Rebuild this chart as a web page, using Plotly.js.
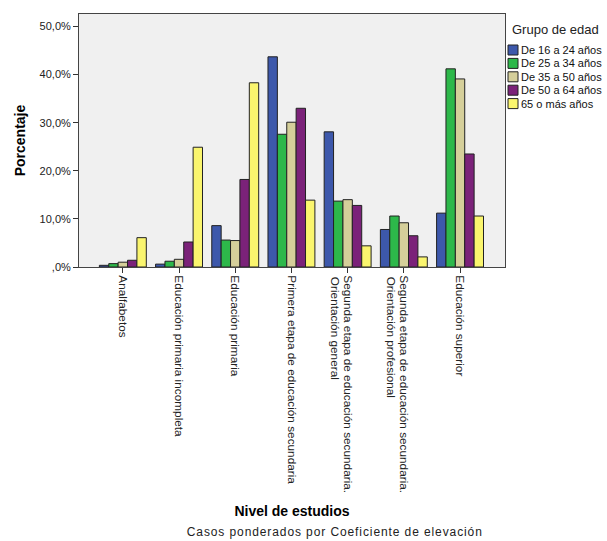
<!DOCTYPE html>
<html>
<head>
<meta charset="utf-8">
<script src="https://cdn.plot.ly/plotly-3.0.1.min.js"></script>
<style>
html,body{margin:0;padding:0;background:#fff;}
#chart{width:607px;height:541px;}
.spaced text{letter-spacing:0.9px;}
</style>
</head>
<body>
<div id="chart"></div>
<script>
const categories = [
  "Analfabetos",
  "Educación primaria incompleta",
  "Educación primaria",
  "Primera etapa de educación secundaria",
  "Segunda etapa de educación secundaria.<br>Orientación general",
  "Segunda etapa de educación secundaria.<br>Orientación profesional",
  "Educación superior"
];
const seriesNames = ["De 16 a 24 años", "De 25 a 34 años", "De 35 a 50 años", "De 50 a 64 años", "65 o más años"];
const seriesColors = ["#3D58AB", "#2DB84A", "#D5CF9A", "#7B2279", "#FAF56E"];
const edad16_24 = [0.35, 0.6, 8.6, 43.7, 28.1, 7.8, 11.2];
const edad25_34 = [0.7, 1.2, 5.6, 27.6, 13.7, 10.6, 41.2];
const edad35_50 = [1.0, 1.6, 5.5, 30.1, 14.0, 9.2, 39.1];
const edad50_64 = [1.4, 5.2, 18.2, 33.0, 12.8, 6.5, 23.5];
const edad65 = [6.1, 24.9, 38.3, 13.9, 4.4, 2.1, 10.6];
const yTickVals = [0, 10, 20, 30, 40, 50];
const yTickText = [",0%", "10,0%", "20,0%", "30,0%", "40,0%", "50,0%"];

const allSeries = [edad16_24, edad25_34, edad35_50, edad50_64, edad65];
const catIdx = categories.map((_, k) => k);
const traces = allSeries.map((vals, i) => ({
  type: "bar",
  name: seriesNames[i],
  x: catIdx,
  y: vals,
  marker: {color: seriesColors[i], line: {color: "#222", width: 1}},
  hoverinfo: "none"
}));

const font = "Arial, 'Liberation Sans', sans-serif";
const W = 607, H = 541, ML = 79, MR = 102, MT = 14, MB = 274;
const PW = W - ML - MR, PH = H - MT - MB;
const px2x = p => (p - ML) / PW;
const py2y = p => (H - MB - p) / PH;

const firstLines = categories.map(c => c.split("<br>")[0]);
const annotations = [];
categories.forEach((c, k) => {
  const parts = c.split("<br>");
  if (parts.length > 1) {
    annotations.push({
      text: parts[1], xref: "x", yref: "paper", x: k, y: 0,
      xanchor: "center", yanchor: "top", xshift: -12, yshift: -8,
      textangle: 90, showarrow: false,
      font: {family: font, size: 11.8, color: "#222"}
    });
  }
});
annotations.push({
  text: "Casos ponderados por Coeficiente de elevación",
  xref: "paper", yref: "paper", x: px2x(335), y: py2y(532),
  xanchor: "center", yanchor: "middle", showarrow: false,
  font: {family: font, size: 12, color: "#222"}
});
// legend (custom, to match compact layout)
annotations.push({
  text: "Grupo de edad", xref: "paper", yref: "paper",
  x: px2x(510), y: py2y(29), xanchor: "left", yanchor: "middle",
  showarrow: false, font: {family: font, size: 13, color: "#222"}
});
const shapes = [];
seriesNames.forEach((n, i) => {
  const cy = 50 + 13.4 * i;
  shapes.push({
    type: "rect", xref: "paper", yref: "paper",
    x0: px2x(508), x1: px2x(518), y0: py2y(cy - 5), y1: py2y(cy + 5),
    fillcolor: seriesColors[i], line: {color: "#222", width: 1}
  });
  annotations.push({
    text: n, xref: "paper", yref: "paper", x: px2x(519), y: py2y(cy),
    xanchor: "left", yanchor: "middle", showarrow: false,
    font: {family: font, size: 11, color: "#111"}
  });
});

const layout = {
  width: W, height: H,
  margin: {l: ML, r: MR, t: MT, b: MB},
  paper_bgcolor: "#fff",
  plot_bgcolor: "#F0F0F0",
  barmode: "group",
  bargap: 0.165,
  bargroupgap: 0,
  showlegend: false,
  font: {family: font, size: 11, color: "#000"},
  xaxis: {
    range: [-0.78, 6.8],
    tickmode: "array",
    tickvals: catIdx,
    ticktext: firstLines,
    tickangle: 90,
    ticks: "outside", ticklen: 5, tickcolor: "#333",
    showline: true, linecolor: "#444", mirror: true,
    showgrid: false, zeroline: false,
    tickfont: {family: font, size: 11.8, color: "#222"},
    title: {text: "<b>Nivel de estudios</b>", font: {family: font, size: 14, color: "#000"}, standoff: 14}
  },
  yaxis: {
    range: [0, 52.6],
    tickmode: "array",
    tickvals: yTickVals,
    ticktext: yTickText,
    ticks: "outside", ticklen: 5, tickcolor: "#333",
    showline: true, linecolor: "#444", mirror: true,
    showgrid: false, zeroline: false,
    tickfont: {family: font, size: 11, color: "#222"},
    title: {text: "<b>Porcentaje</b>", font: {family: font, size: 14, color: "#000"}, standoff: 10}
  },
  annotations: annotations,
  shapes: shapes
};
Plotly.newPlot("chart", traces, layout, {staticPlot: true, displayModeBar: false}).then(gd => {
  const anns = gd.querySelectorAll(".annotation");
  anns.forEach(a => {
    if (a.textContent.indexOf("Casos ponderados") === 0) a.classList.add("spaced");
  });
});
</script>
</body>
</html>
